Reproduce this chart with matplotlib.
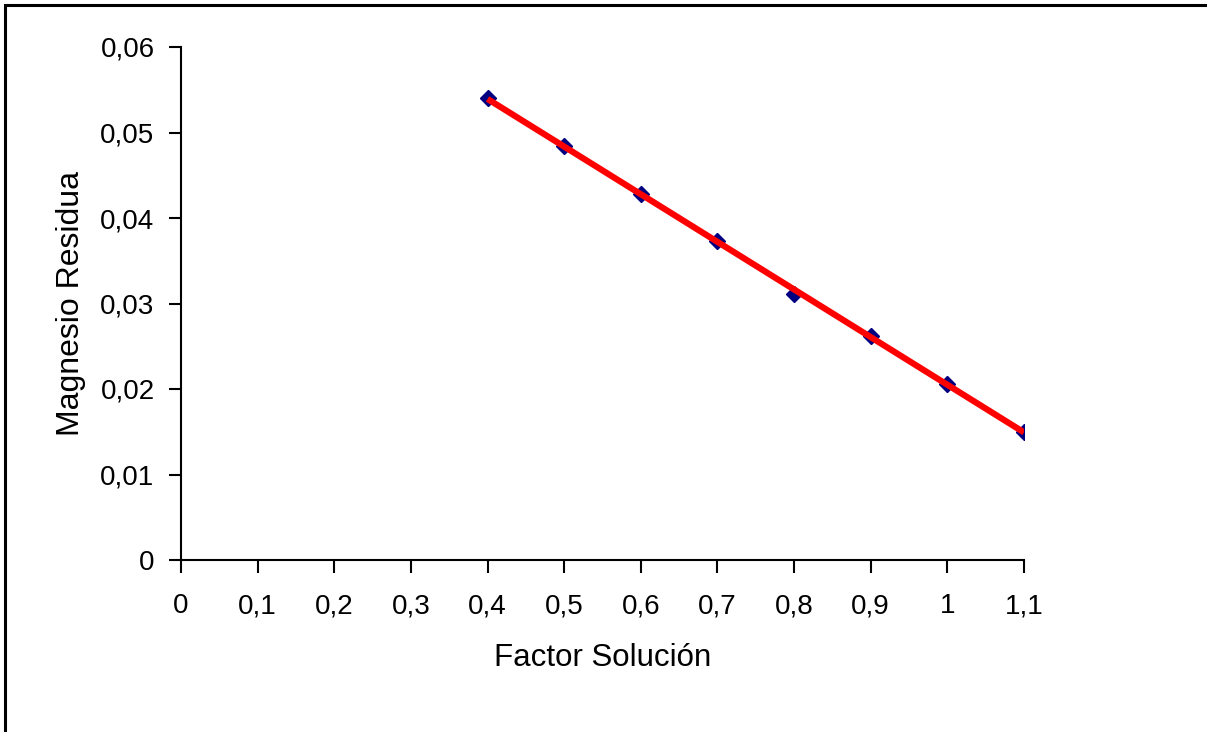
import numpy as np
import matplotlib
matplotlib.use("Agg")
import matplotlib.pyplot as plt
from matplotlib.patches import Rectangle
from matplotlib.ticker import FuncFormatter

factor = [0.4, 0.5, 0.6, 0.7, 0.8, 0.9, 1.0, 1.1]
magnesio = [0.0540, 0.0484, 0.0428, 0.0373, 0.0311, 0.0262, 0.0206, 0.0150]
x_ticks = [0, 0.1, 0.2, 0.3, 0.4, 0.5, 0.6, 0.7, 0.8, 0.9, 1.0, 1.1]
y_ticks = [0, 0.01, 0.02, 0.03, 0.04, 0.05, 0.06]

plt.rcParams['font.family'] = ['Liberation Sans', 'DejaVu Sans']

fig = plt.figure(figsize=(12.07, 7.32), dpi=100)
fig.patch.set_facecolor('white')
# outer chart border (only top and left visible in reference)
fig.add_artist(Rectangle((5/1207, -0.05), 1.2, 1.05 - 5/732, transform=fig.transFigure,
                         fill=False, edgecolor='black', linewidth=2.2))

ax = fig.add_axes([181/1207, 172/732, (1024-181)/1207, (560-47)/732])
ax.set_xlim(0, 1.1)
ax.set_ylim(0, 0.06)

# trend line (linear fit)
coef = np.polyfit(factor, magnesio, 1)
xs = np.array([min(factor), max(factor)])
ax.plot(factor, magnesio, linestyle='none', marker='D', markersize=8,
        color='#000080', zorder=2)
ax.plot(xs, np.polyval(coef, xs), color='#FF0000', linewidth=4.5,
        solid_capstyle='butt', zorder=3)

for s in ['top', 'right']:
    ax.spines[s].set_visible(False)
for s in ['left', 'bottom']:
    ax.spines[s].set_linewidth(1.5)

ax.set_xticks(x_ticks)
ax.set_yticks(y_ticks)
fmt = FuncFormatter(lambda v, p: ('%g' % round(v, 3)).replace('.', ','))
ax.xaxis.set_major_formatter(fmt)
ax.yaxis.set_major_formatter(fmt)
ax.tick_params(axis='both', direction='out', length=9, width=1.5,
               labelsize=20)
ax.tick_params(axis='x', pad=15)
ax.tick_params(axis='y', pad=10)

ax.set_xlabel('Factor Solución', fontsize=22.5, labelpad=17)
ax.set_ylabel('Magnesio Residua', fontsize=23, labelpad=10)

fig.savefig('out.png', dpi=100, facecolor='white')
